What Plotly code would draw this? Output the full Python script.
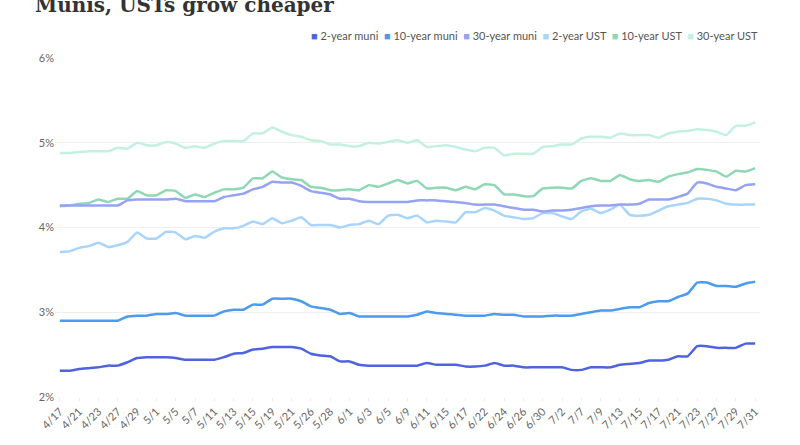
import plotly.graph_objects as go

# trading dates (every other one is labelled on the axis)
dates = [
    "4/17", "4/18", "4/21", "4/22", "4/23", "4/24", "4/27", "4/28", "4/29", "4/30",
    "5/1", "5/2", "5/5", "5/6", "5/7", "5/8", "5/11", "5/12", "5/13", "5/14",
    "5/15", "5/18", "5/19", "5/20", "5/21", "5/22", "5/26", "5/27", "5/28", "5/29",
    "6/1", "6/2", "6/3", "6/4", "6/5", "6/8", "6/9", "6/10", "6/11", "6/12",
    "6/15", "6/16", "6/17", "6/18", "6/22", "6/23", "6/24", "6/25", "6/26", "6/29",
    "6/30", "7/1", "7/2", "7/6", "7/7", "7/8", "7/9", "7/10", "7/13", "7/14",
    "7/15", "7/16", "7/17", "7/20", "7/21", "7/22", "7/23", "7/24", "7/27", "7/28",
    "7/29", "7/30", "7/31",
]
tick_labels = dates[::2]

muni_2y = [
    2.31, 2.31, 2.33, 2.34, 2.35, 2.37, 2.37, 2.41, 2.46, 2.47,
    2.47, 2.47, 2.46, 2.44, 2.44, 2.44, 2.44, 2.47, 2.51, 2.52,
    2.56, 2.57, 2.59, 2.59, 2.59, 2.57, 2.51, 2.49, 2.48, 2.42,
    2.42, 2.38, 2.37, 2.37, 2.37, 2.37, 2.37, 2.37, 2.40, 2.38,
    2.38, 2.38, 2.36, 2.36, 2.37, 2.40, 2.37, 2.37, 2.35, 2.35,
    2.35, 2.35, 2.35, 2.32, 2.32, 2.35, 2.35, 2.35, 2.38, 2.39,
    2.40, 2.43, 2.43, 2.44, 2.48, 2.48, 2.60, 2.60, 2.58, 2.58,
    2.58, 2.63, 2.63,
]
muni_10y = [
    2.90, 2.90, 2.90, 2.90, 2.90, 2.90, 2.90, 2.95, 2.96, 2.96,
    2.98, 2.98, 2.99, 2.96, 2.96, 2.96, 2.96, 3.01, 3.03, 3.03,
    3.09, 3.09, 3.16, 3.16, 3.16, 3.13, 3.07, 3.05, 3.03, 2.98,
    2.99, 2.95, 2.95, 2.95, 2.95, 2.95, 2.95, 2.97, 3.01, 2.99,
    2.98, 2.97, 2.96, 2.96, 2.96, 2.98, 2.97, 2.97, 2.95, 2.95,
    2.95, 2.96, 2.96, 2.96, 2.98, 3.00, 3.02, 3.02, 3.04, 3.06,
    3.06, 3.11, 3.13, 3.13, 3.18, 3.22, 3.35, 3.35, 3.31, 3.31,
    3.30, 3.34, 3.36,
]
muni_30y = [
    4.26, 4.26, 4.26, 4.26, 4.26, 4.26, 4.26, 4.32, 4.33, 4.33,
    4.33, 4.33, 4.34, 4.31, 4.31, 4.31, 4.31, 4.36, 4.38, 4.40,
    4.45, 4.48, 4.54, 4.53, 4.53, 4.49, 4.43, 4.41, 4.39, 4.34,
    4.34, 4.31, 4.30, 4.30, 4.30, 4.30, 4.30, 4.32, 4.32, 4.32,
    4.31, 4.30, 4.29, 4.27, 4.27, 4.27, 4.25, 4.23, 4.21, 4.21,
    4.19, 4.20, 4.20, 4.21, 4.23, 4.25, 4.26, 4.26, 4.27, 4.27,
    4.28, 4.33, 4.33, 4.33, 4.36, 4.40, 4.53, 4.52, 4.48, 4.46,
    4.44, 4.50, 4.51,
]
ust_2y = [
    3.71, 3.72, 3.76, 3.78, 3.82, 3.77, 3.79, 3.83, 3.94, 3.87,
    3.87, 3.95, 3.94, 3.86, 3.90, 3.88, 3.95, 3.99, 3.99, 4.02,
    4.07, 4.04, 4.11, 4.05, 4.08, 4.12, 4.03, 4.03, 4.03, 4.00,
    4.03, 4.04, 4.08, 4.04, 4.14, 4.15, 4.11, 4.14, 4.06, 4.08,
    4.07, 4.06, 4.18, 4.18, 4.23, 4.20, 4.14, 4.12, 4.10, 4.11,
    4.17, 4.17, 4.13, 4.10, 4.19, 4.22, 4.17, 4.21, 4.27, 4.15,
    4.14, 4.15, 4.20, 4.25, 4.27, 4.29, 4.34, 4.34, 4.32, 4.28,
    4.27, 4.27, 4.27,
]
ust_10y = [
    4.25, 4.26, 4.28, 4.29, 4.33, 4.30, 4.34, 4.34, 4.43, 4.38,
    4.38, 4.44, 4.43, 4.35, 4.39, 4.36, 4.41, 4.45, 4.45, 4.47,
    4.58, 4.58, 4.66, 4.59, 4.57, 4.56, 4.48, 4.47, 4.44, 4.44,
    4.45, 4.44, 4.50, 4.48, 4.52, 4.56, 4.52, 4.55, 4.46, 4.47,
    4.47, 4.44, 4.48, 4.45, 4.51, 4.50, 4.39, 4.39, 4.37, 4.37,
    4.46, 4.47, 4.47, 4.46, 4.55, 4.58, 4.55, 4.55, 4.62, 4.57,
    4.55, 4.56, 4.54, 4.60, 4.63, 4.65, 4.69, 4.68, 4.66, 4.60,
    4.67, 4.66, 4.70,
]
ust_30y = [
    4.88, 4.88, 4.89, 4.90, 4.90, 4.90, 4.94, 4.93, 5.00, 4.97,
    4.97, 5.01, 4.99, 4.94, 4.96, 4.94, 4.99, 5.02, 5.02, 5.02,
    5.11, 5.11, 5.18, 5.13, 5.09, 5.07, 5.03, 5.02, 4.98, 4.98,
    4.96, 4.96, 5.00, 4.99, 5.01, 5.03, 5.00, 5.03, 4.95, 4.96,
    4.97, 4.95, 4.92, 4.90, 4.94, 4.94, 4.85, 4.87, 4.87, 4.87,
    4.95, 4.96, 4.98, 4.98, 5.05, 5.07, 5.07, 5.06, 5.11, 5.09,
    5.09, 5.09, 5.06, 5.11, 5.13, 5.14, 5.16, 5.15, 5.13, 5.09,
    5.20, 5.20, 5.24,
]

series_names = ["2-year muni", "10-year muni", "30-year muni",
                "2-year UST", "10-year UST", "30-year UST"]
series_values = [muni_2y, muni_10y, muni_30y, ust_2y, ust_10y, ust_30y]
colors = ["#4f63e0", "#4c9bec", "#95a3f2", "#a9d4fb", "#8fd8b5", "#c4f1df"]

fig = go.Figure()

# draw lighter lines first so darker ones sit on top
for name, vals, col in reversed(list(zip(series_names, series_values, colors))):
    fig.add_trace(go.Scatter(
        x=dates, y=vals, mode="lines", name=name,
        line=dict(color=col, width=2.5, shape="spline", smoothing=0.4),
        hovertemplate="%{x}: %{y:.2f}%<extra>" + name + "</extra>",
    ))

# compact legend row with square swatches, like the original
legend_text = "&nbsp;&nbsp;".join(
    f"<span style='color:{col}'>■</span> {name}"
    for name, col in zip(series_names, colors)
)

fig.update_layout(
    width=800, height=445,
    margin=dict(l=55, r=40, t=58, b=48, autoexpand=False),
    paper_bgcolor="white", plot_bgcolor="white",
    font=dict(family="Lato, 'Open Sans', sans-serif", size=11, color="#555"),
    showlegend=False,
)

fig.update_xaxes(
    type="category", range=[-0.5, len(dates) - 0.5],
    tickmode="array", tickvals=tick_labels, ticktext=tick_labels,
    tickangle=-45, tickfont=dict(size=11, color="#666"),
    showgrid=False, showline=False, zeroline=False, automargin=False,
    ticks="outside", ticklen=3, tickcolor="#eeeeee",
)
fig.update_yaxes(
    range=[2, 6], dtick=1, ticksuffix="%",
    tickfont=dict(size=11, color="#666"), automargin=False,
    gridcolor="#eeeeee", zeroline=False, showline=False,
)

# title, partly cut at the top edge as in the original
fig.add_annotation(
    text="<b>Munis, USTs grow cheaper</b>", xref="paper", yref="paper",
    x=-22 / 705, y=1.115, xanchor="left", yanchor="bottom", showarrow=False,
    font=dict(family="'DejaVu Serif', serif", size=20, color="#333"),
)
fig.add_annotation(
    text=legend_text, xref="paper", yref="paper",
    x=1.0, y=1.065, xanchor="right", yanchor="middle", showarrow=False,
    font=dict(size=11, color="#555"),
)
fig.add_annotation(
    text="Source: LSEG", xref="paper", yref="paper",
    x=-22 / 705, y=-0.14, xanchor="left", yanchor="top",
    showarrow=False, font=dict(size=11, color="#888"),
)

# drop the default page margin so the chart sits flush in the window
fig.write_html(
    "out.html",
    config={"displayModeBar": False},
    post_script="document.body.style.margin='0';",
)
